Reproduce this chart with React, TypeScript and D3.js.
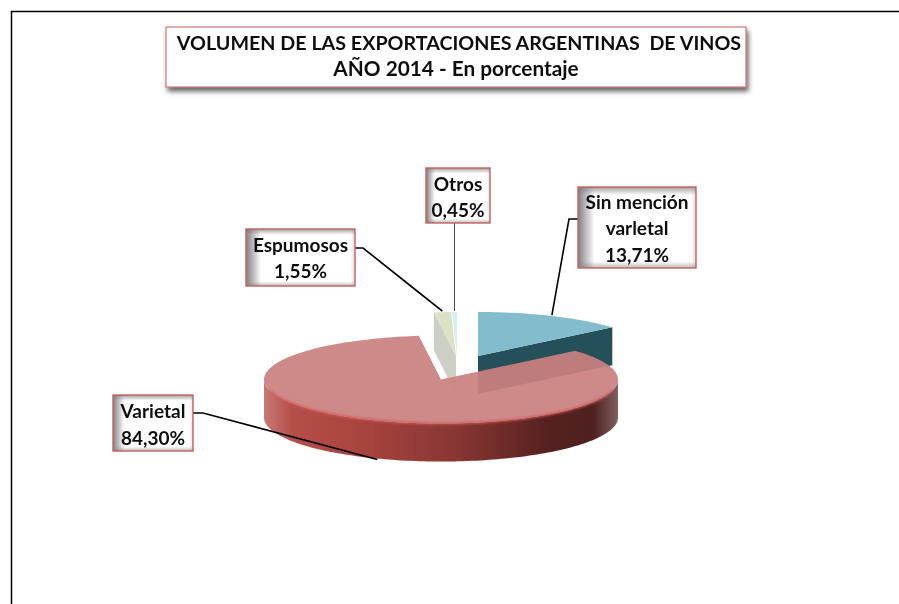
import React from "react";
import * as d3 from "d3";

const categories = ["Sin mención varietal", "Varietal", "Espumosos", "Otros"];
const shares = [13.71, 84.3, 1.55, 0.45];
const shareLabels = ["13,71%", "84,30%", "1,55%", "0,45%"];
const labelLines = [["Sin mención", "varletal", "13,71%"], ["Varietal", "84,30%"], ["Espumosos", "1,55%"], ["Otros", "0,45%"]];
const titleLines = ["VOLUMEN DE LAS EXPORTACIONES ARGENTINAS  DE VINOS", "AÑO 2014 - En porcentaje"];
const titleSizes = [19.7, 20.8];
const titleBaselines = [50, 76];
const topColors = ["#82bccd", "#ca8180", "#dce2c6", "#d3eff1"];
const wallColors = ["#24505a", "#8c3835", "#cbcfc6", "#ffffff"];

const RX = 177, RY = 44, DEPTH = 38;
const FONT = "Lato, 'Open Sans', sans-serif";
const centers: [number, number][] = [[478, 356], [441, 379.5], [456, 356], [457, 356]];
const boxes = [
  { x: 578, y: 187, w: 118, h: 81 },
  { x: 113, y: 395, w: 80, h: 56 },
  { x: 246, y: 229, w: 109, h: 57 },
  { x: 426, y: 168, w: 64, h: 55 },
];
const labelBaselines = [[209, 235, 262], [418, 445], [252, 278], [191, 217]];

const px = d3.scaleLinear().domain([-1, 1]).range([-RX, RX]);
const py = d3.scaleLinear().domain([-1, 1]).range([-RY, RY]);
const slices = d3.pie<number>().sort(null)(shares);

function pt(i: number, a: number, drop = 0): [number, number] {
  return [centers[i][0] + px(Math.sin(a)), centers[i][1] + py(-Math.cos(a)) + drop];
}
function arcPts(i: number, a0: number, a1: number, drop = 0) {
  const n = Math.max(2, Math.ceil(Math.abs(a1 - a0) * 40));
  return d3.range(n + 1).map((k) => pt(i, a0 + ((a1 - a0) * k) / n, drop));
}
const line = d3.line();
function topFace(i: number) {
  const s = slices[i];
  return line([centers[i], ...arcPts(i, s.startAngle, s.endAngle)]) + "Z";
}
function cutFace(i: number, a: number) {
  const o = pt(i, a);
  const c = centers[i];
  return line([c, o, [o[0], o[1] + DEPTH], [c[0], c[1] + DEPTH]]) + "Z";
}
function frontWall(i: number) {
  const a0 = Math.PI / 2, a1 = (Math.PI * 3) / 2;
  return line([...arcPts(i, a0, a1), ...arcPts(i, a1, a0, DEPTH)]) + "Z";
}
const mid = (i: number) => (slices[i].startAngle + slices[i].endAngle) / 2;
const blueTip = pt(0, mid(0), -1);
const espTip = pt(2, mid(2), -1);
const otrTip = pt(3, mid(3), -1);
const varTip = pt(1, mid(1), DEPTH + 1);
const leaders: [number, number][][] = [
  [[boxes[0].x, 219], [569, 219], blueTip],
  [[boxes[1].x + boxes[1].w, 413], [203, 413], varTip],
  [[boxes[2].x + boxes[2].w, 248], [363, 248], [412, 287], espTip],
  [[otrTip[0], boxes[3].y + boxes[3].h], otrTip],
];
const leaderWidth = [1.6, 1.6, 1.6, 0.9];

function LabelBox({ i }: { i: number }) {
  const b = boxes[i];
  return (
    <g>
      <rect x={b.x} y={b.y} width={b.w} height={b.h} fill="#fff" />
      <rect x={b.x} y={b.y} width={b.w} height={b.h} fill="url(#shadeL)" />
      <rect x={b.x} y={b.y} width={b.w} height={b.h} fill="url(#shadeV)" />
      <rect x={b.x} y={b.y} width={b.w} height={b.h} fill="none" stroke="#c4605c" strokeWidth={1.4} />
      {labelLines[i].map((t, k) => (
        <text key={k} x={b.x + b.w / 2} y={labelBaselines[i][k]} textAnchor="middle" fontFamily={FONT} fontWeight={700} fontSize={19} fill="#111" filter="url(#soft)">
          {t}
        </text>
      ))}
    </g>
  );
}

export default function App() {
  return (
    <svg width={899} height={604} style={{ position: "absolute", left: 0, top: 0, background: "#fff" }} aria-label={categories.join(", ") + " " + shareLabels.join(", ")}>
      <defs>
        <filter id="soft" x="-5%" y="-20%" width="110%" height="140%"><feGaussianBlur stdDeviation="0.35" /></filter>
        <filter id="rim" x="-5%" y="-20%" width="110%" height="140%"><feGaussianBlur stdDeviation="0.8" /></filter>
        <filter id="shadow" x="-5%" y="-20%" width="110%" height="150%"><feDropShadow dx="2" dy="4" stdDeviation="2.5" floodColor="#000" floodOpacity="0.6" /></filter>
        <linearGradient id="shadeL" x1="0" x2="1" y1="0" y2="0">
          <stop offset="0" stopColor="#808080" />
          <stop offset="0.14" stopColor="#808080" stopOpacity="0" />
          <stop offset="0.96" stopColor="#909090" stopOpacity="0" />
          <stop offset="1" stopColor="#909090" stopOpacity="0.3" />
        </linearGradient>
        <linearGradient id="shadeV" x1="0" x2="0" y1="0" y2="1">
          <stop offset="0" stopColor="#808080" stopOpacity="0.75" />
          <stop offset="0.1" stopColor="#808080" stopOpacity="0" />
          <stop offset="0.92" stopColor="#808080" stopOpacity="0" />
          <stop offset="1" stopColor="#808080" stopOpacity="0.55" />
        </linearGradient>
        <linearGradient id="wall" gradientUnits="userSpaceOnUse" x1={264} x2={618} y1={0} y2={0}>
          <stop offset="0" stopColor="#c67a76" />
          <stop offset="0.08" stopColor="#b54e49" />
          <stop offset="0.25" stopColor="#ab4540" />
          <stop offset="0.55" stopColor="#863633" />
          <stop offset="0.8" stopColor="#562120" />
          <stop offset="0.93" stopColor="#4f2020" />
          <stop offset="1" stopColor="#806060" />
        </linearGradient>
      </defs>

      <path d="M11.5,604V11.5H899" fill="none" stroke="#000" strokeWidth={1.5} />

      <rect x={166} y={27} width={580} height={60} fill="#fff" stroke="#c4605c" strokeWidth={1} filter="url(#shadow)" />
      {titleLines.map((t, k) => (
        <text key={k} x={k === 0 ? 459 : 456} y={titleBaselines[k]} textAnchor="middle" fontFamily={FONT} fontWeight={700} fontSize={titleSizes[k]} fill="#111" style={{ whiteSpace: "pre" }} filter="url(#soft)">
          {t}
        </text>
      ))}

      <path d={cutFace(0, slices[0].endAngle)} fill={wallColors[0]} />
      <path d={topFace(0)} fill={topColors[0]} />

      <path d={cutFace(2, slices[2].startAngle)} fill={wallColors[2]} />
      <path d={topFace(2)} fill={topColors[2]} />
      <path d={topFace(3)} fill={topColors[3]} />

      <path d={frontWall(1)} fill="url(#wall)" />
      <path d={topFace(1)} fill={topColors[1]} fillOpacity={0.93} />
      <path d={line(arcPts(1, Math.PI / 2 + 0.25, (Math.PI * 3) / 2 - 0.25)) ?? ""} fill="none" stroke="#cf5c57" strokeWidth={2} filter="url(#rim)" />

      {leaders.map((l, i) => (
        <path key={i} d={line(l) ?? ""} fill="none" stroke={i === 3 ? "#333" : "#000"} strokeWidth={leaderWidth[i]} />
      ))}
      {boxes.map((_, i) => <LabelBox key={i} i={i} />)}
    </svg>
  );
}
